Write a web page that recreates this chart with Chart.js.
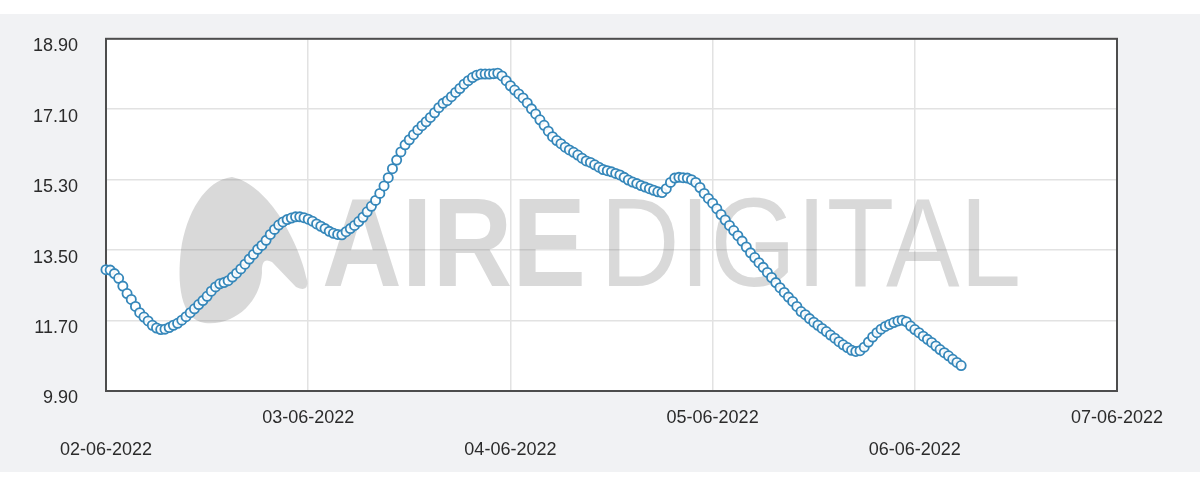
<!DOCTYPE html>
<html>
<head>
<meta charset="utf-8">
<script src="https://cdn.jsdelivr.net/npm/chart.js@4.4.0/dist/chart.umd.min.js"></script>
<style>
html,body{margin:0;padding:0;background:#ffffff;}
#wrap{width:1200px;height:490px;position:relative;}
canvas{display:block;}
</style>
</head>
<body>
<div id="wrap"><canvas id="c" width="1200" height="490"></canvas></div>
<script>
// ---- data ----
const dayLabels = ['02-06-2022', '03-06-2022', '04-06-2022', '05-06-2022', '06-06-2022', '07-06-2022'];
const yTickValues = [9.90, 11.70, 13.50, 15.30, 17.10, 18.90];
const readingsPerDay = 48; // one reading every 30 minutes
const levels = [
  13.00, 12.99, 12.90, 12.78, 12.58, 12.39, 12.24, 12.06, 11.90, 11.79,
  11.69, 11.58, 11.51, 11.47, 11.48, 11.52, 11.58, 11.63, 11.71, 11.80,
  11.90, 12.00, 12.11, 12.21, 12.32, 12.45, 12.56, 12.64, 12.67, 12.72,
  12.81, 12.91, 13.02, 13.14, 13.27, 13.39, 13.52, 13.62, 13.75, 13.90,
  14.03, 14.14, 14.22, 14.28, 14.32, 14.35, 14.35, 14.33, 14.29, 14.24,
  14.17, 14.11, 14.05, 13.98, 13.93, 13.90, 13.89, 13.97, 14.05, 14.13,
  14.23, 14.34, 14.48, 14.62, 14.77, 14.95, 15.14, 15.35, 15.58, 15.80,
  16.01, 16.19, 16.32, 16.45, 16.57, 16.68, 16.78, 16.89, 17.01, 17.14,
  17.25, 17.32, 17.42, 17.53, 17.63, 17.74, 17.83, 17.91, 17.97, 18.00,
  18.00, 18.00, 18.01, 18.02, 17.95, 17.83, 17.70, 17.59, 17.49, 17.39,
  17.26, 17.11, 16.98, 16.83, 16.69, 16.54, 16.40, 16.30, 16.22, 16.13,
  16.06, 16.00, 15.93, 15.85, 15.78, 15.74, 15.68, 15.62, 15.56, 15.53,
  15.50, 15.46, 15.42, 15.36, 15.29, 15.24, 15.20, 15.15, 15.11, 15.07,
  15.03, 14.99, 14.97, 15.07, 15.23, 15.34, 15.36, 15.35, 15.34, 15.30,
  15.23, 15.10, 14.95, 14.82, 14.70, 14.56, 14.41, 14.27, 14.13, 14.00,
  13.87, 13.73, 13.58, 13.43, 13.31, 13.18, 13.06, 12.93, 12.80, 12.67,
  12.54, 12.42, 12.30, 12.19, 12.06, 11.93, 11.85, 11.75, 11.66, 11.58,
  11.50, 11.42, 11.33, 11.25, 11.16, 11.08, 11.01, 10.94, 10.91, 10.93,
  11.02, 11.15, 11.28, 11.39, 11.48, 11.55, 11.60, 11.65, 11.69, 11.71,
  11.67, 11.56, 11.47, 11.39, 11.30, 11.22, 11.14, 11.05, 10.96, 10.88,
  10.80, 10.71, 10.63, 10.55
];

const points = levels.map((v, i) => ({ x: i / readingsPerDay, y: v }));

const FONT = "'Liberation Sans', Arial, Helvetica, sans-serif";
const GRID = '#e2e2e2';

const bgPlugin = {
  id: 'bg',
  beforeDraw(chart) {
    const c = chart.ctx, a = chart.chartArea;
    c.save();
    c.fillStyle = '#ffffff';
    c.fillRect(0, 0, chart.width, chart.height);
    c.fillStyle = '#f1f2f4';
    c.fillRect(0, 14, chart.width, 458);
    c.fillStyle = '#ffffff';
    c.fillRect(a.left, a.top, a.right - a.left, a.bottom - a.top);
    c.restore();
  }
};

const watermarkPlugin = {
  id: 'wm',
  beforeDatasetsDraw(chart) {
    const c = chart.ctx;
    c.save();
    c.fillStyle = 'rgba(115,115,115,0.27)';
    // logo shape
    c.beginPath();
    c.moveTo(232, 177);
    c.bezierCurveTo(270, 185, 300, 245, 307, 280);
    c.quadraticCurveTo(309, 293, 296, 287);
    c.lineTo(272, 262);
    c.quadraticCurveTo(261, 256, 262, 273);
    c.bezierCurveTo(260, 302, 235, 326, 205, 323);
    c.bezierCurveTo(180, 320, 177, 282, 181, 250);
    c.bezierCurveTo(186, 214, 205, 180, 232, 177);
    c.closePath();
    c.fill();
    // text
    const drawFit = (txt, font, left, right, base) => {
      c.font = font;
      const w = c.measureText(txt).width;
      c.save();
      c.translate(left, base);
      c.scale((right - left) / w, 1);
      c.textBaseline = 'alphabetic';
      c.textAlign = 'left';
      c.fillText(txt, 0, 0);
      c.restore();
    };
    drawFit('AIRE', 'bold 126px ' + FONT, 322, 586, 286);
    drawFit('DIGITAL', 'normal 126px ' + FONT, 600, 1021, 286);
    c.restore();
  }
};

const framePlugin = {
  id: 'frame',
  beforeDatasetsDraw(chart) {
    const c = chart.ctx, a = chart.chartArea;
    c.save();
    c.strokeStyle = '#4d4d4d';
    c.lineWidth = 2;
    c.strokeRect(a.left, a.top, a.right - a.left, a.bottom - a.top);
    c.restore();
  }
};

new Chart(document.getElementById('c'), {
  type: 'scatter',
  data: {
    datasets: [{
      data: points,
      showLine: false,
      clip: false,
      pointRadius: 4.6,
      pointBorderWidth: 1.8,
      pointBorderColor: '#3587ba',
      pointBackgroundColor: 'rgba(255,255,255,0.9)',
      pointHoverRadius: 4.6
    }]
  },
  options: {
    responsive: false,
    animation: false,
    devicePixelRatio: 1,
    layout: { padding: { top: 34, right: 83, bottom: 0, left: 0 } },
    plugins: {
      legend: { display: false },
      tooltip: { enabled: false },
      title: { display: false }
    },
    scales: {
      x: {
        type: 'linear',
        min: 0,
        max: dayLabels.length - 1,
        afterBuildTicks: s => { s.ticks = dayLabels.map((_, k) => ({ value: k })); },
        afterFit: s => { s.height = 99; },
        grid: { color: GRID, lineWidth: 1.5, drawTicks: false },
        border: { display: false },
        ticks: {
          autoSkip: false,
          maxRotation: 0,
          minRotation: 0,
          padding: 11,
          color: '#2b2b2b',
          font: { family: FONT, size: 18, lineHeight: 32 / 18 },
          callback: (v, k) => (k % 2 === 0 ? ['', dayLabels[k]] : [dayLabels[k]])
        }
      },
      y: {
        min: yTickValues[0],
        max: yTickValues[yTickValues.length - 1],
        afterBuildTicks: s => { s.ticks = yTickValues.map(v => ({ value: v })); },
        afterFit: s => { s.width = 106; },
        grid: { color: GRID, lineWidth: 1.5, drawTicks: false },
        border: { display: false },
        ticks: {
          padding: 28,
          labelOffset: 7.5,
          color: '#2b2b2b',
          font: { family: FONT, size: 18 },
          callback: v => Number(v).toFixed(2)
        }
      }
    }
  },
  plugins: [bgPlugin, watermarkPlugin, framePlugin]
});
</script>
</body>
</html>
